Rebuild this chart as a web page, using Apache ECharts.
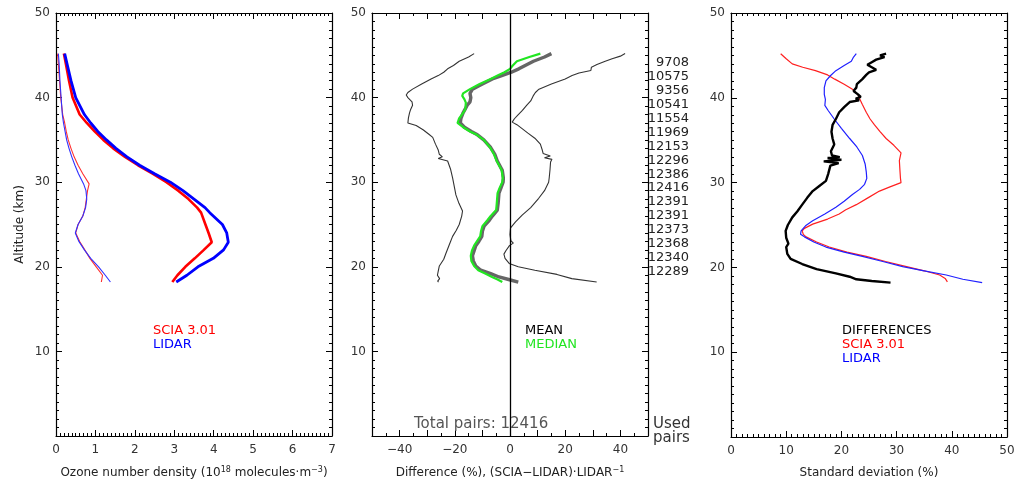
<!DOCTYPE html>
<html><head><meta charset="utf-8">
<script src="https://cdn.jsdelivr.net/npm/echarts@6/dist/echarts.min.js"></script>
<style>html,body{margin:0;padding:0;background:#fff}#c{width:1025px;height:484px}</style>
</head><body><div id="c"></div><script>
// ---------- Panel 1: ozone number density (10^18 molecules/m^3) ----------
const altThick = [45.2,44,42,40,38,37,36,35,34,33,32,31,30,29,28,27,26.4,25,24,22.9,22,21,20,19,18.2];
const sciaMean = [0.2,0.25,0.33,0.42,0.6,0.78,0.98,1.2,1.45,1.75,2.08,2.45,2.8,3.1,3.36,3.58,3.68,3.79,3.87,3.95,3.75,3.52,3.28,3.08,2.95];
const lidarMean = [0.22,0.28,0.38,0.5,0.72,0.88,1.06,1.28,1.52,1.8,2.12,2.5,2.9,3.22,3.5,3.78,3.9,4.22,4.33,4.37,4.25,3.99,3.6,3.32,3.05];
const altThin = [45.2,44,42,40,38,37,36,35,34,33,32,31,29.8,29,28,27,26,25,24,23,22,21,20,19,18.2];
const sciaStd = [0.04,0.06,0.09,0.12,0.17,0.22,0.26,0.31,0.38,0.46,0.56,0.68,0.84,0.8,0.77,0.74,0.68,0.56,0.5,0.6,0.73,0.86,1.02,1.18,1.15];
const lidarStd = [0.06,0.08,0.1,0.13,0.16,0.19,0.23,0.27,0.33,0.4,0.48,0.57,0.7,0.76,0.78,0.75,0.68,0.56,0.49,0.58,0.72,0.88,1.08,1.25,1.38];

// ---------- Panel 2: relative difference (%) ----------
const altMean = [45.2,44.8,44.3,43.8,43.4,43.0,42.6,42.2,41.6,41.0,40.5,40.0,39.5,39.1,38.6,38.2,37.5,37.0,36.5,36.0,35.6,35.0,34.1,33.3,32.5,31.4,30.5,30.0,29.3,28.7,27.5,26.7,26.0,25.5,24.8,24.2,23.6,23.0,22.5,21.9,21.3,20.7,20.1,19.6,19.2,18.8,18.5,18.2];
const diffMean = [15.0,12.5,8.5,5.5,3.2,0.5,-3,-6.4,-10,-13.6,-14.5,-14.2,-14.5,-15.5,-16.3,-17.0,-17.8,-18.0,-16.5,-14,-11.8,-9.5,-7,-5.5,-4.6,-2.8,-2.4,-2.5,-3.3,-4.0,-4.3,-4.6,-6.4,-7.5,-9.4,-10.0,-10.2,-11.3,-12.4,-13.0,-13.6,-13.3,-12.4,-10.6,-7,-4,-0.5,3.0];
const altMedian = [45.2,44.8,44.3,43.8,43.4,43.0,42.6,42.2,41.6,41.0,40.5,40.2,39.8,39.4,38.6,38.2,37.5,37.0,36.5,36.0,35.6,35.0,34.1,33.3,32.5,31.4,30.5,30.0,29.3,28.7,27.5,26.7,26.0,25.5,24.8,24.2,23.6,23.0,22.5,21.9,21.3,20.7,20.1,19.6,19.2,18.8,18.5,18.2];
const diffMedian = [11.0,7,2.5,1.0,0,-2,-4.5,-7,-11,-14.5,-17.0,-17.3,-16.5,-16,-16.2,-17,-18.5,-19.0,-17,-14.5,-12,-9.5,-7.2,-5.8,-4.8,-3.0,-2.6,-2.8,-3.8,-4.5,-4.8,-5.0,-7,-8.2,-10,-10.5,-10.8,-12,-13,-13.8,-14.2,-14,-13,-11.5,-9,-6.5,-4.5,-2.8];
const altUpper = [45.2,44.9,44.6,44.3,43.9,43.6,43.4,43.2,42.9,42.6,42.2,41.6,41.0,40.6,40.2,40.0,39.6,39.1,38.5,38.0,37.5,37.1,36.8,36.3,35.8,35.2,34.5,33.9,33.4,33.1,32.9,32.7,32.4,31.5,30.5,30.0,29.0,28.1,27.0,26.1,25.3,24.6,23.8,23.1,22.8,22.5,21.9,21.5,21.0,20.4,20.0,19.6,19.1,18.6,18.2];
const diffUpper = [41.7,40,37,34.5,31.5,29.5,28.8,29.3,25,22.5,20,15,10.5,9.2,8.4,8.7,7.5,6.1,4.5,3,1.6,0.8,2.5,4.5,6.5,9,11,11.6,12.0,14.6,12.5,15.2,14.7,14.5,14.2,14,12.5,10.4,7.5,4.4,2,0.2,0,0.3,1.2,-0.2,-1.5,-2.2,-1.8,-0.3,3,9,17,22.4,31.4];
const altLower = [45.2,44.8,44.3,43.8,43.4,43.0,42.6,42.2,41.6,41.0,40.6,40.3,40.0,39.5,39.1,38.6,38.2,37.6,37.0,36.7,36.2,35.7,35.3,34.5,33.8,33.3,33.0,32.8,32.5,31.5,30.5,29.5,28.5,27.5,26.6,26.0,25.0,24.3,23.6,22.6,21.6,20.9,20.1,19.5,19.0,18.6,18.3,18.2];
const diffLower = [-13,-15,-18.4,-20.5,-22.6,-24,-26,-28.6,-32,-35.3,-37,-37.6,-37,-35.5,-35.3,-36,-36.4,-36.8,-37,-34,-31.5,-29.5,-28,-27,-26,-25.6,-24.5,-26,-22.6,-21.5,-20.8,-20.2,-19.6,-18.5,-17.2,-17.5,-18.4,-19.5,-20.8,-22,-23.2,-24,-25.6,-26,-26.3,-25.5,-26.2,-25.9];
const usedPairs = ['9708','10575','9356','10541','11554','11969','12153','12296','12386','12416','12391','12391','12373','12368','12340','12289'];
const totalPairs = 'Total pairs: 12416';

// ---------- Panel 3: standard deviation (%) ----------
const altSciaSd = [45.2,44.6,44.0,43.6,43.2,42.7,42.2,41.6,41.0,40.4,39.9,39.2,38.3,37.5,36.8,36.0,35.2,34.4,33.5,32.6,31.5,30.5,30.0,29.5,29.0,28.2,27.4,26.8,26.3,25.7,25.1,24.6,24.3,23.9,23.6,23.0,22.4,21.8,21.3,20.7,20.1,19.6,19.1,18.7,18.3];
const sciaSd = [9.0,10,11.1,13,15.3,17.5,18.8,20.5,22,23,23.3,23.8,24.5,25.2,26,27,28.1,29.5,30.8,30.5,30.6,30.7,30.8,28.8,26.9,24.8,22.7,20.8,19.6,17.5,14.8,13.3,12.9,13.1,13.6,15.5,17.8,21,24.5,28,31.8,35,37.8,38.8,39.2];
const altLidarSd = [45.2,44.8,44.3,43.8,43.2,42.6,42.0,41.2,40.4,39.8,39.1,38.5,37.5,36.4,35.2,34.2,33.2,32.2,31.3,30.5,29.8,29.2,28.6,27.8,27.1,26.3,25.5,24.9,24.3,23.9,23.6,23.0,22.4,21.8,21.3,20.7,20.1,19.6,19.1,18.6,18.2];
const lidarSd = [22.7,22.2,21.8,20.5,19.0,18.0,17.2,16.9,16.9,17.1,17.0,17.6,18.7,20,21.5,22.8,23.8,24.3,24.5,24.6,24.2,23.3,22,20.5,19,17,14.8,13.5,12.7,12.6,13.3,15,17.2,20.5,23.8,27.5,31.1,35,39.0,42,45.5];
const altDiffSd = [45.2,45.0,44.8,44.5,44.2,43.9,43.6,43.3,43.0,42.7,42.2,41.6,41.2,40.8,40.4,40.1,39.9,39.7,39.5,38.9,38.3,37.5,36.8,36.0,35.2,34.5,33.7,33.2,33.0,32.9,32.7,32.5,32.3,32.0,31.0,30.2,29.6,29.0,28.2,27.4,26.6,25.9,25.0,24.3,23.5,22.8,22.4,21.6,21.0,20.4,19.8,19.3,18.9,18.6,18.4,18.2];
const diffSd = [28.1,27.0,27.8,26.3,25.5,24.7,25.5,26.3,25.0,24.5,23.8,22.8,22.7,22.2,23,23.5,22.6,23.2,21.5,20.5,19.6,19,18.4,18.2,18.4,18.7,18.1,18.3,19.7,17.5,20,16.8,19.5,18,17.6,17.2,16,14.8,13.8,12.9,12,11.1,10.3,9.9,10,10.4,10.0,10.2,10.8,12.9,15.5,19,21.5,22.7,25.5,28.9];

// axis ranges: [min, max, major interval, minor interval]
const xRanges = [[0, 7, 1, 0.1], [-50, 50, 10, 5], [0, 50, 10, 1]];
const yRange = [0, 50, 10, 1];

const FONT = '"DejaVu Sans", sans-serif';
const zip = (xs, ys) => xs.map((x, i) => [x, ys[i]]);

const grids = [
  {left: 56, top: 13, width: 276, height: 430},
  {left: 372, top: 13, width: 276, height: 430},
  {left: 731, top: 13, width: 276, height: 430}
];
const tickLine = {color: '#000', width: 1};
function baseAx(i, r, position, major, opts) {
  return Object.assign({
    gridIndex: i, type: 'value', min: r[0], max: r[1], interval: major ? r[2] : r[3], position,
    axisLine: {show: major, onZero: false, lineStyle: {color: '#000', width: 1.2}},
    axisTick: {show: true, inside: true, length: major ? 6 : 3, lineStyle: tickLine},
    splitLine: {show: false},
    axisLabel: {show: false},
    silent: true
  }, opts || {});
}
const labelStyle = {show: true, fontFamily: FONT, fontSize: 12, color: '#333', margin: 8};
const nameStyle = {fontFamily: FONT, fontSize: 12, color: '#222',
  rich: {sup: {fontFamily: FONT, fontSize: 8, color: '#222', verticalAlign: 'top', padding: [0, 0, 6, 0]}}};
const minus = v => String(v).replace('-', '\u2212');
const xNames = ['Ozone number density (10{sup|18} molecules\u00b7m{sup|\u22123})',
  'Difference (%), (SCIA\u2212LIDAR)\u00b7LIDAR{sup|\u22121}', 'Standard deviation (%)'];

const xAxis = [], yAxis = [];
for (let i = 0; i < 3; i++) {
  const fmt = i === 1 ? (v => (v % 20 === 0 ? minus(v) : '')) : (v => String(v));
  xAxis.push(baseAx(i, xRanges[i], 'bottom', true, {
    axisLabel: Object.assign({}, labelStyle, {formatter: fmt}),
    name: xNames[i], nameLocation: 'middle', nameGap: 30, nameTextStyle: nameStyle}));
  xAxis.push(baseAx(i, xRanges[i], 'top', true));
  xAxis.push(baseAx(i, xRanges[i], 'bottom', false));
  xAxis.push(baseAx(i, xRanges[i], 'top', false));
  yAxis.push(baseAx(i, yRange, 'left', true, Object.assign({
    axisLabel: Object.assign({}, labelStyle, {margin: 6, formatter: v => (v === yRange[0] ? '' : String(v))})},
    i === 0 ? {name: 'Altitude (km)', nameLocation: 'middle', nameGap: 30, nameRotate: 90,
      nameTextStyle: {fontFamily: FONT, fontSize: 12, color: '#222'}} : {})));
  yAxis.push(baseAx(i, yRange, 'right', true));
  yAxis.push(baseAx(i, yRange, 'left', false));
  yAxis.push(baseAx(i, yRange, 'right', false));
}

function line(i, data, color, width, extra) {
  return Object.assign({
    type: 'line', xAxisIndex: i * 4, yAxisIndex: i * 4, data, showSymbol: false, symbol: 'none',
    lineStyle: {color, width}, itemStyle: {color}, silent: true, z: 3
  }, extra || {});
}
const series = [
  line(0, zip(sciaStd, altThin), '#ff3030', 1.1),
  line(0, zip(lidarStd, altThin), '#3030ff', 1.1),
  line(0, zip(sciaMean, altThick), '#ff0000', 2.6),
  line(0, zip(lidarMean, altThick), '#0000ff', 2.8),
  line(1, zip(diffLower, altLower), '#333', 1.1),
  line(1, zip(diffUpper, altUpper), '#333', 1.1),
  line(1, zip(diffMean, altMean), '#666', 3.4, {
    markLine: {silent: true, symbol: 'none', label: {show: false},
      lineStyle: {color: '#000', width: 1.3, type: 'solid'}, data: [{xAxis: 0}]}}),
  line(1, zip(diffMedian, altMedian), '#22e622', 2.2, {z: 4}),
  line(2, zip(sciaSd, altSciaSd), '#ff2020', 1.2),
  line(2, zip(lidarSd, altLidarSd), '#2020ff', 1.2),
  line(2, zip(diffSd, altDiffSd), '#000', 2.4)
];

function txt(x, y, text, fill, size, align) {
  return {type: 'text', x, y, silent: true, z: 10,
    style: {text, fill, font: size + 'px ' + FONT, textAlign: align || 'left', textVerticalAlign: 'middle'}};
}
const graphic = [
  txt(153, 331, 'SCIA 3.01', '#ff0000', 13),
  txt(153, 345, 'LIDAR', '#0000ff', 13),
  txt(525, 331, 'MEAN', '#000', 13),
  txt(525, 345, 'MEDIAN', '#22e622', 13),
  txt(842, 331, 'DIFFERENCES', '#000', 13),
  txt(842, 345, 'SCIA 3.01', '#ff0000', 13),
  txt(842, 359, 'LIDAR', '#0000ff', 13),
  txt(414, 424, totalPairs, '#555', 15),
  txt(653, 424, 'Used', '#333', 15),
  txt(653, 438, 'pairs', '#333', 15)
];
usedPairs.forEach((p, k) => graphic.push(txt(689, 63 + k * 13.9, p, '#222', 13, 'right')));

const chart = echarts.init(document.getElementById('c'), null, {renderer: 'canvas'});
chart.setOption({
  animation: false, backgroundColor: '#fff',
  grid: grids, xAxis, yAxis, series, graphic
});
</script></body></html>
